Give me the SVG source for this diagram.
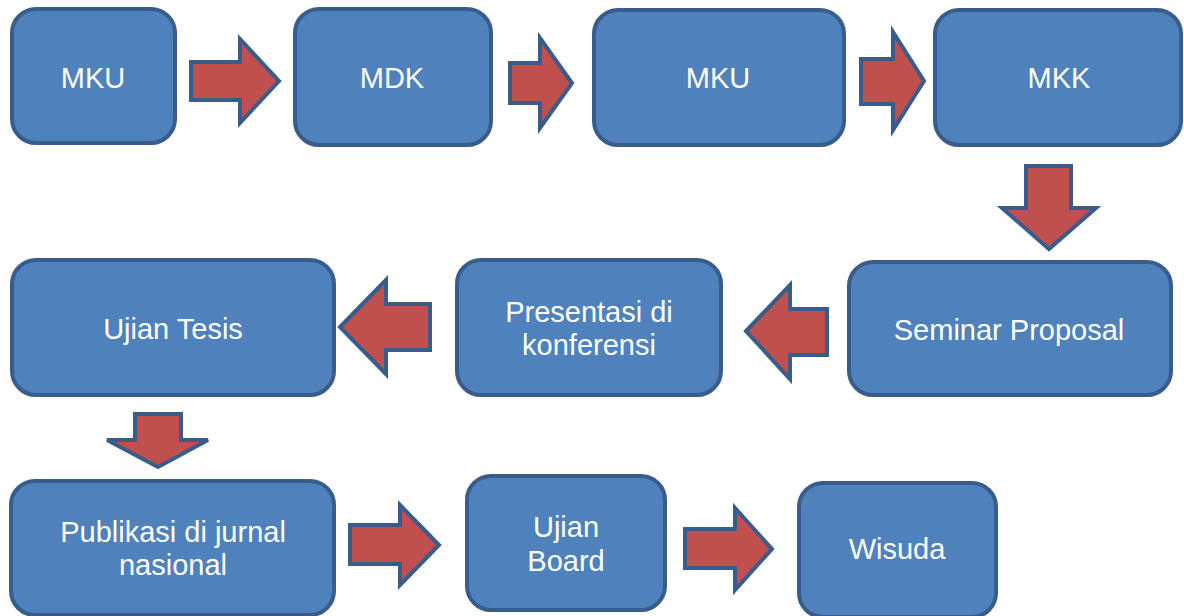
<svg xmlns="http://www.w3.org/2000/svg" width="1184" height="616" viewBox="0 0 1184 616">
<style>
.box{fill:#4F81BD;stroke:#385D8A;stroke-width:4}
.arr{fill:#C0504D;stroke:#385D8A;stroke-width:4;stroke-linejoin:miter}
.lbl{font-family:"Liberation Sans",Arial,sans-serif;font-size:29px;fill:#FFFFFF;text-anchor:middle}
</style>
<rect width="1184" height="616" fill="#FFFFFF"/>
<g id="connectors">
<polygon class="arr" points="191,62 240,62 240,39 279,81 240,123 240,100 191,100"/>
<polygon class="arr" points="510,63 540,63 540,38 572,83 540,128 540,103 510,103"/>
<polygon class="arr" points="861,59 893,59 893,32 924,81 893,130 893,104 861,104"/>
<polygon class="arr" points="1026,166 1071,166 1071,208 1096,208 1049,249 1002,208 1026,208"/>
<polygon class="arr" points="827,309 790,309 790,285 746,331 790,379 790,355 827,355"/>
<polygon class="arr" points="430,304 386,304 386,280 340,327 386,374 386,350 430,350"/>
<polygon class="arr" points="135,414 181,414 181,440 208,440 158,467 107,440 135,440"/>
<polygon class="arr" points="350,525 400,525 400,505 439,545 400,585 400,564 350,564"/>
<polygon class="arr" points="685,529 735,529 735,508 772,549 735,590 735,568 685,568"/>
</g>
<g id="n1"><rect class="box" x="12" y="9" width="163" height="134" rx="24"/><text class="lbl" x="93" y="88">MKU</text></g>
<g id="n2"><rect class="box" x="295" y="9" width="196" height="136" rx="24"/><text class="lbl" x="392" y="88">MDK</text></g>
<g id="n3"><rect class="box" x="594" y="10" width="250" height="135" rx="24"/><text class="lbl" x="718" y="88">MKU</text></g>
<g id="n4"><rect class="box" x="935" y="10" width="246" height="135" rx="24"/><text class="lbl" x="1059" y="88">MKK</text></g>
<g id="n5"><rect class="box" x="849" y="262" width="322" height="133" rx="24"/><text class="lbl" x="1009" y="340">Seminar Proposal</text></g>
<g id="n6"><rect class="box" x="457" y="260" width="264" height="135" rx="24"/><text class="lbl" x="589" y="322">Presentasi di</text><text class="lbl" x="589" y="355">konferensi</text></g>
<g id="n7"><rect class="box" x="12" y="260" width="322" height="135" rx="24"/><text class="lbl" x="173" y="339">Ujian Tesis</text></g>
<g id="n8"><rect class="box" x="11" y="481" width="323" height="134" rx="24"/><text class="lbl" x="173" y="542">Publikasi di jurnal</text><text class="lbl" x="173" y="575">nasional</text></g>
<g id="n9"><rect class="box" x="467" y="476" width="198" height="134" rx="24"/><text class="lbl" x="566" y="537">Ujian</text><text class="lbl" x="566" y="571">Board</text></g>
<g id="n10"><rect class="box" x="799" y="483" width="197" height="134" rx="24"/><text class="lbl" x="897" y="559">Wisuda</text></g>
</svg>
